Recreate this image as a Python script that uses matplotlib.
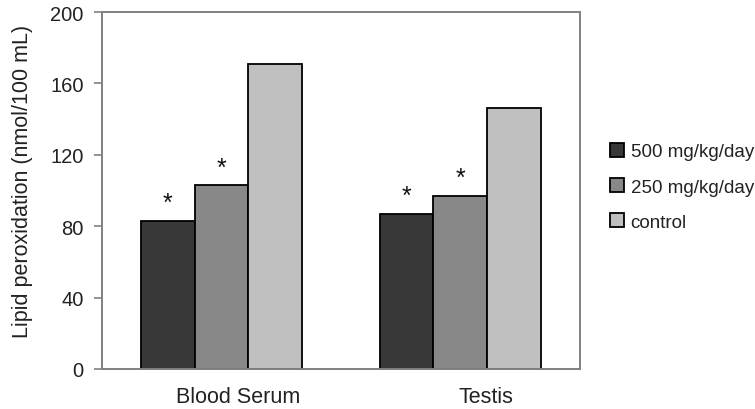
# lipid peroxidation bar chart, serum vs testis
import matplotlib.pyplot as plt
import matplotlib.transforms as mtransforms
import numpy as np

plt.rcParams['font.family'] = ['Liberation Sans', 'DejaVu Sans']

groups = ['Blood Serum', 'Testis']
series = ['500 mg/kg/day', '250 mg/kg/day', 'control']
vals_500 = [83, 87]
vals_250 = [103, 97]
vals_ctrl = [171, 146]
starred = [True, True, False]
colors = ['#383838', '#888888', '#c0c0c0']

x = np.arange(len(groups))
w = 0.225

fig = plt.figure(figsize=(7.55, 4.10), dpi=100)
ax = fig.add_axes([0.135, 0.0976, 0.633, 0.8705])

for i, vals in enumerate([vals_500, vals_250, vals_ctrl]):
    pos = x + (i - 1) * w
    ax.bar(pos, vals, w, color=colors[i], edgecolor='black', linewidth=1.3,
           label=series[i])
    if starred[i]:
        for xp, v in zip(pos, vals):
            ax.annotate('*', (xp, v), xytext=(0, 4), textcoords='offset points',
                        ha='center', va='bottom', fontsize=18, color='#111111')

ax.set_xlim(-0.5, 1.5)
ax.set_ylim(0, 200)
ax.set_yticks([0, 40, 80, 120, 160, 200])
ax.set_xticks(x)
ax.set_xticklabels(groups)
ax.tick_params(axis='x', length=0, labelsize=15.5, pad=12, labelcolor='#222222')
ax.tick_params(axis='y', length=6, width=1.2, color='#808080', labelsize=14.5,
               pad=7, labelcolor='#222222')
# the category labels sit a little right of the bar groups in the original
for lab, dx in zip(ax.get_xticklabels(), [17, 26]):
    lab.set_transform(lab.get_transform() +
                      mtransforms.ScaledTranslation(dx / 100, 0, fig.dpi_scale_trans))
for s in ax.spines.values():
    s.set_color('#808080')
    s.set_linewidth(1.4)
ax.set_ylabel('Lipid peroxidation (nmol/100 mL)', fontsize=15.5, color='#222222')
ax.yaxis.set_label_coords(-0.144, 0.527)

ax.legend(loc='center left', bbox_to_anchor=(1.063, 0.51), frameon=False,
          borderpad=0, borderaxespad=0, fontsize=13.5, labelspacing=0.95,
          handlelength=0.75, handleheight=0.75, handletextpad=0.35,
          labelcolor='#222222')

plt.savefig('out.png', dpi=100)
